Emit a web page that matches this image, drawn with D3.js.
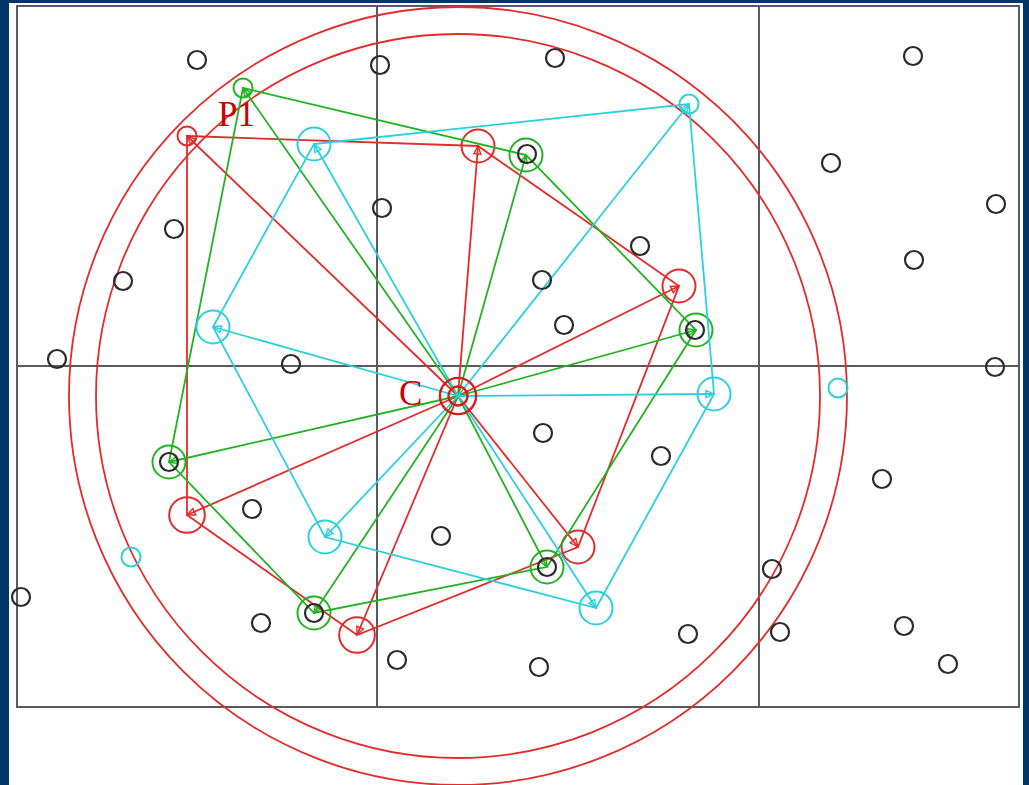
<!DOCTYPE html>
<html>
<head>
<meta charset="utf-8">
<script src="https://cdn.jsdelivr.net/npm/d3@7"></script>
<style>
  html, body { margin: 0; padding: 0; background: #03346a; }
  svg { display: block; }
</style>
</head>
<body>
<svg id="chart" width="1029" height="785"></svg>
<script>
// data space: x 0..1002, y 0..701 (y grows downward like the original)
const centre = [441, 390];
const ringRadii = [389, 362];
const gridX = [360, 742];
const gridY = [360];

const points = [
  [180, 54], [363, 59], [538, 52], [896, 50], [814, 157], [979, 198],
  [897, 254], [365, 202], [157, 223], [106, 275], [623, 240], [525, 274],
  [547, 319], [40, 353], [274, 358], [978, 361], [526, 427], [644, 450],
  [865, 473], [235, 503], [424, 530], [4, 591], [755, 563], [244, 617],
  [671, 628], [763, 626], [887, 620], [931, 658], [380, 654], [522, 661],
  [510, 148], [678, 324], [152, 456], [297, 607], [530, 561]
];

const redVerts = [[170, 130], [461, 140], [662, 280], [561, 541], [340, 629], [170, 509]];
const redWeights = [1, 3, 3, 3, 3.5, 3.5];
const greenVerts = [[226, 82], [509, 149], [679, 324], [530, 561], [297, 607], [152, 456]];
const greenWeights = [1, 3, 3, 3, 3, 3];
const cyanVerts = [[297, 138], [672, 98], [697, 388], [579, 602], [308, 531], [196, 321]];
const cyanWeights = [3, 1, 3, 3, 3, 3];
const cyanExtra = [[821, 382], [114, 551]];

const labels = [
  { text: "P1", at: [201, 120] },
  { text: "C", at: [382, 399] }
];

const svg = d3.select("#chart");
const x = d3.scaleLinear().domain([0, 1002]).range([17, 1019]);
const y = d3.scaleLinear().domain([0, 701]).range([6, 707]);
const rad = d3.scaleSqrt().domain([1, 3]).range([9.5, 16.5]);
const k = x(1) - x(0);

const colors = { red: "#e32b2b", green: "#22b322", cyan: "#2cd0dc" };

svg.append("rect")
  .attr("x", 9).attr("y", 3)
  .attr("width", 1014).attr("height", 782)
  .attr("fill", "#fff");

const defs = svg.append("defs");
Object.entries(colors).forEach(([name, c]) => {
  defs.append("marker")
    .attr("id", "arrow-" + name)
    .attr("viewBox", "-10 -6 12 12")
    .attr("refX", 0).attr("refY", 0)
    .attr("markerWidth", 12).attr("markerHeight", 12)
    .attr("markerUnits", "userSpaceOnUse")
    .attr("orient", "auto")
    .append("path")
    .attr("d", "M-8,-3.5L0,0L-8,3.5Z")
    .attr("fill", "none")
    .attr("stroke", c)
    .attr("stroke-width", 1.4);
});

// frame and grid
const grid = svg.append("g").attr("stroke", "#5a5a5a").attr("stroke-width", 2).attr("fill", "none");
grid.append("rect")
  .attr("x", x(0)).attr("y", y(0))
  .attr("width", x(1002) - x(0)).attr("height", y(701) - y(0));
grid.selectAll("line.vx").data(gridX).enter().append("line")
  .attr("x1", d => x(d)).attr("x2", d => x(d))
  .attr("y1", y(0)).attr("y2", y(701));
grid.selectAll("line.hy").data(gridY).enter().append("line")
  .attr("x1", x(0)).attr("x2", x(1002))
  .attr("y1", d => y(d)).attr("y2", d => y(d));

// outer rings
svg.selectAll("circle.ring").data(ringRadii).enter().append("circle")
  .attr("class", "ring")
  .attr("cx", x(centre[0])).attr("cy", y(centre[1]))
  .attr("r", d => d * k)
  .attr("fill", "none")
  .attr("stroke", colors.red)
  .attr("stroke-width", 1.8);

const line = d3.line().x(d => x(d[0])).y(d => y(d[1])).curve(d3.curveLinearClosed);

function drawGroup(verts, weights, name) {
  const c = colors[name];
  const g = svg.append("g");
  g.append("path")
    .attr("d", line(verts))
    .attr("fill", "none")
    .attr("stroke", c)
    .attr("stroke-width", 1.8);
  g.selectAll("line").data(verts).enter().append("line")
    .attr("x1", x(centre[0])).attr("y1", y(centre[1]))
    .attr("x2", d => x(d[0])).attr("y2", d => y(d[1]))
    .attr("stroke", c)
    .attr("stroke-width", 1.8)
    .attr("marker-end", `url(#arrow-${name})`);
  g.selectAll("circle").data(verts).enter().append("circle")
    .attr("cx", d => x(d[0])).attr("cy", d => y(d[1]))
    .attr("r", (d, i) => rad(weights[i]))
    .attr("fill", "none")
    .attr("stroke", c)
    .attr("stroke-width", 2);
}

drawGroup(redVerts, redWeights, "red");
drawGroup(greenVerts, greenWeights, "green");
drawGroup(cyanVerts, cyanWeights, "cyan");

svg.selectAll("circle.extra").data(cyanExtra).enter().append("circle")
  .attr("class", "extra")
  .attr("cx", d => x(d[0])).attr("cy", d => y(d[1]))
  .attr("r", rad(1))
  .attr("fill", "none")
  .attr("stroke", colors.cyan)
  .attr("stroke-width", 2);

// data points
svg.selectAll("circle.pt").data(points).enter().append("circle")
  .attr("class", "pt")
  .attr("cx", d => x(d[0])).attr("cy", d => y(d[1]))
  .attr("r", 9)
  .attr("fill", "none")
  .attr("stroke", "#2b2b2b")
  .attr("stroke-width", 2.2);

// centre marker
svg.selectAll("circle.ctr").data([3.6, 1]).enter().append("circle")
  .attr("class", "ctr")
  .attr("cx", x(centre[0])).attr("cy", y(centre[1]))
  .attr("r", d => rad(d))
  .attr("fill", "none")
  .attr("stroke", "#d21e1e")
  .attr("stroke-width", 2.4);

svg.selectAll("text.lbl").data(labels).enter().append("text")
  .attr("class", "lbl")
  .attr("x", d => x(d.at[0])).attr("y", d => y(d.at[1]))
  .attr("font-family", "'Liberation Serif', 'DejaVu Serif', serif")
  .attr("font-size", 35)
  .attr("fill", "#cc0000")
  .text(d => d.text);
</script>
</body>
</html>
